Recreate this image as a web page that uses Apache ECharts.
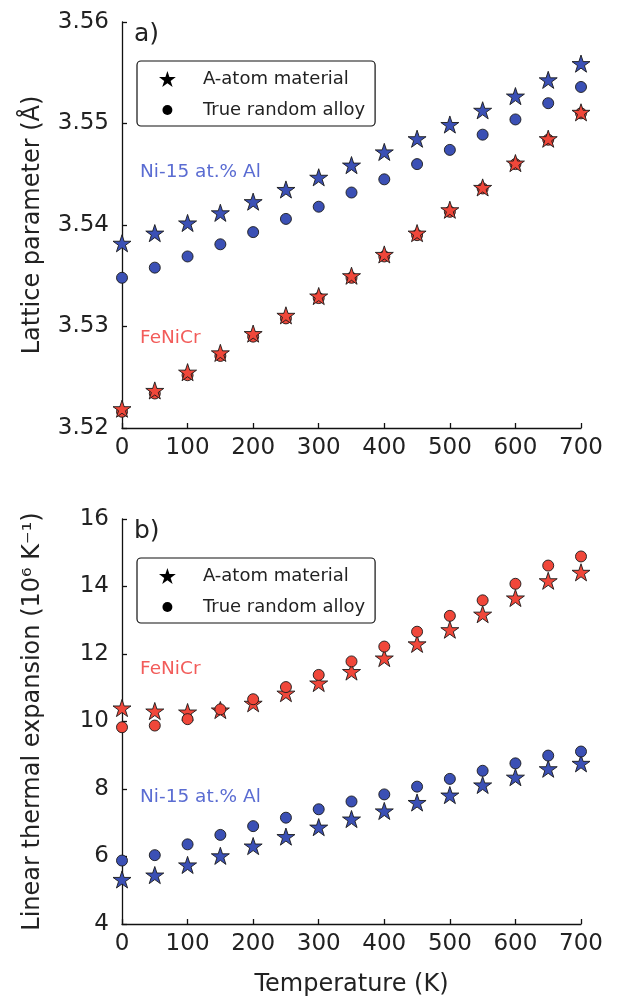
<!DOCTYPE html>
<html>
<head>
<meta charset="utf-8">
<script src="https://cdn.jsdelivr.net/npm/echarts@6/dist/echarts.min.js"></script>
<style>
html,body{margin:0;padding:0;background:#fff;}
#chart{width:619px;height:1003px;}
</style>
</head>
<body>
<div id="chart"></div>
<script>
// ---- data ----
const temperatures = [0,50,100,150,200,250,300,350,400,450,500,550,600,650,700];
const xTicks = [0,100,200,300,400,500,600,700];

// panel a: lattice parameter (Å)
const latNiAl_Aatom  = [3.5382,3.5392,3.5402,3.5412,3.5423,3.5435,3.5447,3.5459,3.5472,3.5485,3.5499,3.5513,3.5527,3.5543,3.5559];
const latNiAl_random = [3.5348,3.5358,3.5369,3.5381,3.5393,3.5406,3.5418,3.5432,3.5445,3.5460,3.5474,3.5489,3.5504,3.5520,3.5536];
const latFeNiCr_Aatom  = [3.5219,3.5237,3.5255,3.5274,3.5293,3.5311,3.5330,3.5350,3.5371,3.5392,3.5415,3.5437,3.5461,3.5485,3.5511];
const latFeNiCr_random = [3.5216,3.5234,3.5252,3.5271,3.5290,3.5308,3.5328,3.5348,3.5369,3.5390,3.5413,3.5436,3.5460,3.5484,3.5510];
const latTicks = [3.52,3.53,3.54,3.55,3.56];

// panel b: linear thermal expansion (10^6 K^-1)
const ctFeNiCr_Aatom  = [10.40,10.31,10.28,10.34,10.54,10.84,11.14,11.48,11.88,12.30,12.72,13.18,13.66,14.17,14.42];
const ctFeNiCr_random = [9.83,9.88,10.07,10.36,10.66,11.02,11.38,11.78,12.22,12.66,13.13,13.59,14.08,14.62,14.89];
const ctNiAl_Aatom  = [5.32,5.45,5.75,6.02,6.31,6.59,6.87,7.11,7.35,7.60,7.82,8.12,8.35,8.60,8.76];
const ctNiAl_random = [5.88,6.04,6.36,6.64,6.90,7.15,7.40,7.63,7.84,8.07,8.30,8.54,8.76,8.99,9.11];
const ctTicks = [4,6,8,10,12,14,16];

const legendNames = ['A-atom material','True random alloy'];
const panelLabels = ['a)','b)'];
const materialNames = ['Ni-15 at.% Al','FeNiCr'];

// ---- style ----
const FONT = 'DejaVu Sans';
const BLUE = '#3b50b5', RED = '#f0473a';
const BLUE_TXT = '#5a6cd2', RED_TXT = '#f25c5a';
const TXT = '#222';
const STAR = 'path://M50 0 L61.23 34.55 L97.55 34.55 L68.17 55.9 L79.39 90.45 L50 69.1 L20.61 90.45 L31.83 55.9 L2.45 34.55 L38.77 34.55 Z';
// circle padded inside a 100x100 box so legend icon is smaller than the star
const SMALL_CIRCLE = 'path://M0 0 M100 100 M19 50 A31 31 0 1 0 81 50 A31 31 0 1 0 19 50 Z';

function pairs(xs, ys){ return xs.map((x,i)=>[x, ys[i]]); }

function starSeries(name, data, color, idx){
  return {type:'scatter', name:name, xAxisIndex:idx, yAxisIndex:idx, data:data,
    symbol:STAR, symbolKeepAspect:true, symbolSize:18,
    itemStyle:{color:color, borderColor:'#1a1a1a', borderWidth:0.9, opacity:1},
    emphasis:{disabled:true}, z:3};
}
function circSeries(name, data, color, idx, z){
  return {type:'scatter', name:name, xAxisIndex:idx, yAxisIndex:idx, data:data,
    symbol:'circle', symbolSize:11,
    itemStyle:{color:color, borderColor:'#1a1a1a', borderWidth:0.9, opacity:1},
    emphasis:{disabled:true}, z:z};
}

const gridA = {left:122, top:22, width:459, height:406};
const gridB = {left:122, top:519, width:459, height:405};

function xAxisDef(idx, showName){
  return {type:'value', gridIndex:idx, min:0, max:700, interval:100,
    axisLine:{show:true, onZero:false, lineStyle:{color:'#111', width:1.3}},
    axisTick:{show:true, inside:true, length:5, lineStyle:{color:'#111', width:1.3}},
    splitLine:{show:false},
    axisLabel:{fontFamily:FONT, fontSize:23, color:TXT, margin:9},
    name: showName ? 'Temperature (K)' : '', nameLocation:'middle', nameGap:49,
    nameTextStyle:{fontFamily:FONT, fontSize:24, color:TXT}};
}
function yAxisDef(idx, min, max, interval, name, fmt){
  return {type:'value', gridIndex:idx, min:min, max:max, interval:interval,
    axisLine:{show:true, onZero:false, lineStyle:{color:'#111', width:1.3}},
    axisTick:{show:true, inside:true, length:5, lineStyle:{color:'#111', width:1.3}},
    splitLine:{show:false},
    axisLabel:{fontFamily:FONT, fontSize:23, color:TXT, margin:13, formatter:fmt},
    name:name, nameLocation:'middle', nameGap:77, nameRotate:90,
    nameTextStyle:{fontFamily:FONT, fontSize:24, color:TXT}};
}

function legendDef(top){
  return {orient:'vertical', left:137, top:top, itemWidth:61, itemHeight:16, itemGap:13,
    padding:[9,10,7,22], borderColor:'#111', borderWidth:1.2, borderRadius:4,
    backgroundColor:'#fff',
    selectedMode:false,
    data:[{name:legendNames[0], icon:STAR, itemStyle:{color:'#000', borderWidth:0}},
          {name:legendNames[1], icon:SMALL_CIRCLE, itemStyle:{color:'#000', borderWidth:0}}],
    itemStyle:{color:'#000', borderWidth:0, opacity:1},
    textStyle:{fontFamily:FONT, fontSize:18, color:TXT}};
}

function textEl(x, y, text, color, size){
  return {type:'text', left:x, top:y, z:10,
    style:{text:text, fill:color, font: size+'px "'+FONT+'"'}};
}

const option = {
  animation:false,
  backgroundColor:'#fff',
  grid:[gridA, gridB],
  xAxis:[xAxisDef(0,false), xAxisDef(1,true)],
  yAxis:[
    yAxisDef(0, 3.52, 3.56, 0.01, 'Lattice parameter (Å)', v=>v.toFixed(2)),
    yAxisDef(1, 4, 16, 2, 'Linear thermal expansion (10⁶ K⁻¹)', v=>String(v))
  ],
  legend:[legendDef(61), legendDef(558)],
  graphic:[
    textEl(134, 22, panelLabels[0], TXT, 25),
    textEl(140, 163, materialNames[0], BLUE_TXT, 18.5),
    textEl(140, 329, materialNames[1], RED_TXT, 18.5),
    textEl(134, 519, panelLabels[1], TXT, 25),
    textEl(140, 660, materialNames[1], RED_TXT, 18.5),
    textEl(140, 788, materialNames[0], BLUE_TXT, 18.5)
  ],
  series:[
    // legend-only series (black icons)
    {type:'scatter', name:legendNames[0], data:[], xAxisIndex:0, yAxisIndex:0, symbol:STAR, itemStyle:{color:'#000'}},
    {type:'scatter', name:legendNames[1], data:[], xAxisIndex:0, yAxisIndex:0, symbol:SMALL_CIRCLE, itemStyle:{color:'#000'}},
    // panel a
    circSeries('a_niAl_rand', pairs(temperatures, latNiAl_random), BLUE, 0, 3),
    starSeries('a_niAl_aatom', pairs(temperatures, latNiAl_Aatom), BLUE, 0),
    circSeries('a_fe_rand', pairs(temperatures, latFeNiCr_random), RED, 0, 2),
    starSeries('a_fe_aatom', pairs(temperatures, latFeNiCr_Aatom), RED, 0),
    // panel b
    starSeries('b_fe_aatom', pairs(temperatures, ctFeNiCr_Aatom), RED, 1),
    circSeries('b_fe_rand', pairs(temperatures, ctFeNiCr_random), RED, 1, 4),
    starSeries('b_niAl_aatom', pairs(temperatures, ctNiAl_Aatom), BLUE, 1),
    circSeries('b_niAl_rand', pairs(temperatures, ctNiAl_random), BLUE, 1, 4)
  ]
};

const chart = echarts.init(document.getElementById('chart'), null, {renderer:'canvas'});
chart.setOption(option);
</script>
</body>
</html>
